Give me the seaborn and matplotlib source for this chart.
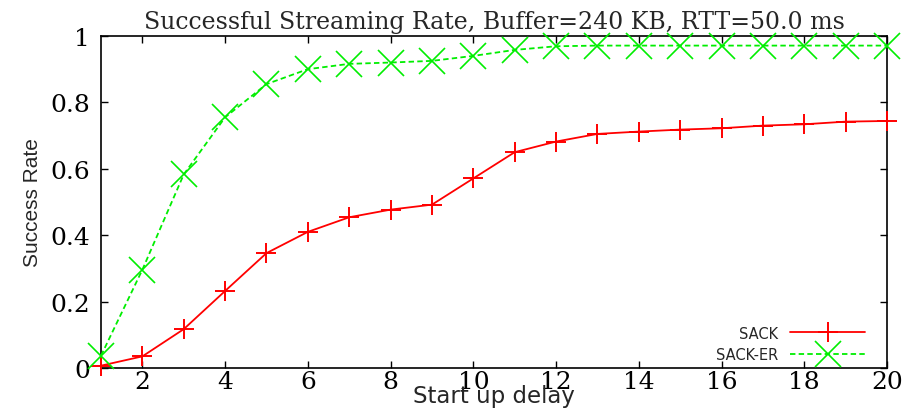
import matplotlib
matplotlib.use("Agg")
import matplotlib.pyplot as plt
import seaborn as sns
import pandas as pd

delay = list(range(1, 21))
sack = [0.007, 0.035, 0.117, 0.232, 0.346, 0.41, 0.454, 0.477, 0.492, 0.571,
        0.65, 0.682, 0.705, 0.712, 0.718, 0.722, 0.73, 0.734, 0.742, 0.744]
sack_er = [0.037, 0.296, 0.583, 0.755, 0.855, 0.90, 0.916, 0.92, 0.925, 0.94,
           0.958, 0.969, 0.971, 0.971, 0.971, 0.971, 0.971, 0.971, 0.971, 0.971]
xticks = [2, 4, 6, 8, 10, 12, 14, 16, 18, 20]
yticks = [0, 0.2, 0.4, 0.6, 0.8, 1.0]
ytick_labels = ["0", "0.2", "0.4", "0.6", "0.8", "1"]

sns.set_style("ticks")
plt.rcParams['font.family'] = ['DejaVu Serif', 'Liberation Serif']

df1 = pd.DataFrame({"delay": delay, "rate": sack})
df2 = pd.DataFrame({"delay": delay, "rate": sack_er})

fig = plt.figure(figsize=(9.14, 4.14), dpi=100)
ax = fig.add_axes([0.1105, 0.1087, 0.86, 0.802])

sns.lineplot(data=df1, x="delay", y="rate", ax=ax, color="#ff0000", lw=1.3,
             marker="+", markersize=15, markeredgewidth=1.4,
             markeredgecolor="#ff0000", label="SACK", clip_on=False, zorder=3)
sns.lineplot(data=df2, x="delay", y="rate", ax=ax, color="#00ee00", lw=1.3,
             marker="x", markersize=19, markeredgewidth=1.2,
             markeredgecolor="#00ee00", label="SACK-ER",
             linestyle=(0, (3, 1.8)), clip_on=False, zorder=3)

ax.set_xlim(1, 20)
ax.set_ylim(0, 1)
ax.set_xticks(xticks)
ax.set_xticklabels([str(t) for t in xticks])
ax.set_yticks(yticks)
ax.set_yticklabels(ytick_labels)
ax.tick_params(direction="in", length=5, width=1, top=True, right=True,
               labelsize=18, colors="black")
ax.tick_params(axis="x", pad=1.5)
ax.tick_params(axis="y", pad=8)
for s in ax.spines.values():
    s.set_visible(True)
    s.set_linewidth(1.2)
    s.set_color("black")

ax.set_title("Successful Streaming Rate, Buffer=240 KB, RTT=50.0 ms",
             fontsize=17, pad=6, family=['DejaVu Serif'])
ax.set_xlabel("Start up delay", fontsize=16.5, labelpad=-6.5,
              family=['DejaVu Sans'])
ax.set_ylabel("Success Rate", fontsize=15, labelpad=6,
              family=['Liberation Sans'])

leg = ax.legend(loc="lower right", markerfirst=False, frameon=False,
                prop={'family': 'DejaVu Sans', 'size': 10.5},
                handlelength=5.2, borderaxespad=0.0, labelspacing=0.45,
                handletextpad=0.8, bbox_to_anchor=(0.98, 0.0))
ax.grid(False)

fig.savefig("out.png", dpi=100)
